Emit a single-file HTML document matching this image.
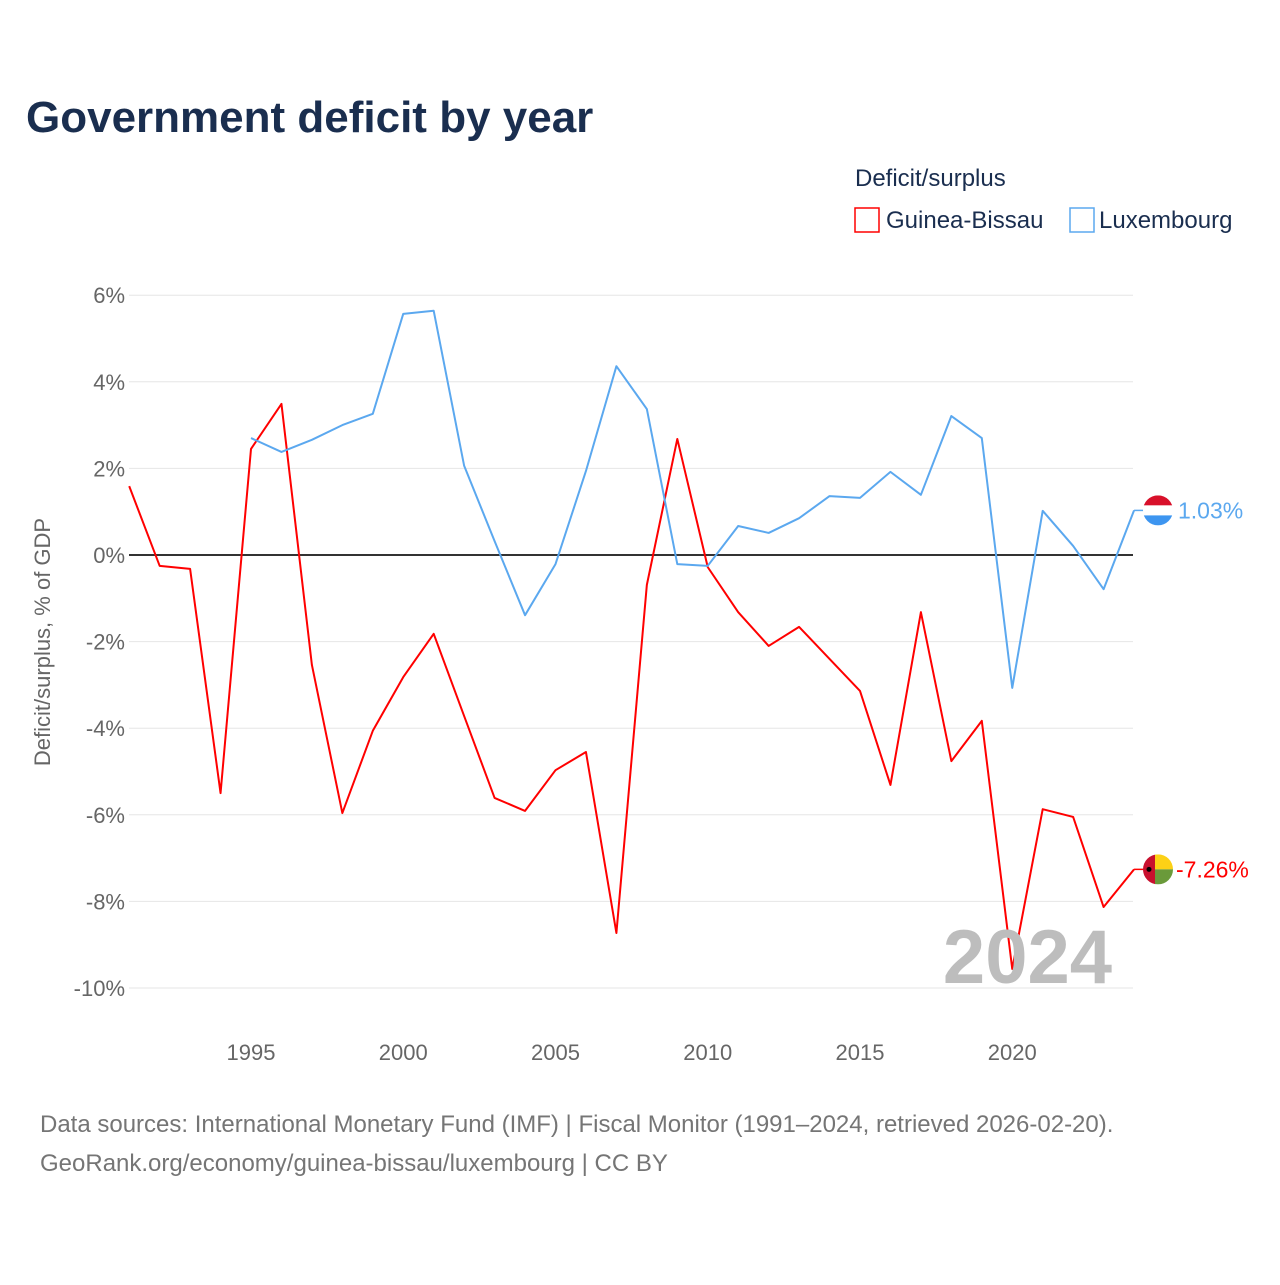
<!DOCTYPE html>
<html><head><meta charset="utf-8">
<style>
body{margin:0;background:#fff;font-family:"Liberation Sans",sans-serif;}
svg text{font-family:"Liberation Sans",sans-serif;}
</style></head>
<body>
<svg id="chart" width="1280" height="1280" viewBox="0 0 1280 1280">
<text x="26" y="132" font-size="44" font-weight="bold" fill="#1a2e4f">Government deficit by year</text>
<text x="855" y="186" font-size="24" fill="#1a2e4f">Deficit/surplus</text>
<g>
<rect x="855" y="208" width="24" height="24" fill="none" stroke="#ff0000" stroke-width="1.5"/>
<text x="886" y="228" font-size="24" fill="#1a2e4f">Guinea-Bissau</text></g>
<g>
<rect x="1070" y="208" width="24" height="24" fill="none" stroke="#5ba8ef" stroke-width="1.5"/>
<text x="1099" y="228" font-size="24" fill="#1a2e4f">Luxembourg</text></g>
<g id="grid"></g>
<g id="marks"></g>
<text x="1112" y="983" font-size="76" font-weight="bold" fill="#bdbdbd" text-anchor="end">2024</text>
<text transform="translate(50,642) rotate(-90)" font-size="22" fill="#666" text-anchor="middle">Deficit/surplus, % of GDP</text>
<text x="40" y="1132" font-size="24" fill="#757575">Data sources: International Monetary Fund (IMF) | Fiscal Monitor (1991–2024, retrieved 2026-02-20).</text>
<text x="40" y="1171" font-size="24" fill="#757575">GeoRank.org/economy/guinea-bissau/luxembourg | CC BY</text>
</svg>
<script>
const gbYears=[1991,1992,1993,1994,1995,1996,1997,1998,1999,2000,2001,2002,2003,2004,2005,2006,2007,2008,2009,2010,2011,2012,2013,2014,2015,2016,2017,2018,2019,2020,2021,2022,2023,2024];
const gbValues=[1.59,-0.25,-0.32,-5.5,2.45,3.49,-2.54,-5.96,-4.06,-2.82,-1.82,-3.72,-5.61,-5.91,-4.97,-4.55,-8.73,-0.69,2.68,-0.28,-1.32,-2.10,-1.66,-2.40,-3.14,-5.31,-1.32,-4.76,-3.83,-9.56,-5.87,-6.05,-8.13,-7.26];
const luYears=[1995,1996,1997,1998,1999,2000,2001,2002,2003,2004,2005,2006,2007,2008,2009,2010,2011,2012,2013,2014,2015,2016,2017,2018,2019,2020,2021,2022,2023,2024];
const luValues=[2.70,2.38,2.66,3.00,3.26,5.57,5.64,2.06,0.32,-1.39,-0.21,1.94,4.36,3.37,-0.21,-0.25,0.67,0.51,0.85,1.36,1.32,1.92,1.39,3.21,2.70,-3.07,1.02,0.21,-0.79,1.03];
const yTicks=[6,4,2,0,-2,-4,-6,-8,-10];
const xTicks=[1995,2000,2005,2010,2015,2020];
const NS="http://www.w3.org/2000/svg";
const xs=y=>129.2+(y-1991)*30.45;
const ys=v=>555-v*43.3;
const grid=document.getElementById('grid'),marks=document.getElementById('marks');
function mk(tag,attrs,parent){const e=document.createElementNS(NS,tag);for(const k in attrs)e.setAttribute(k,attrs[k]);parent.appendChild(e);return e;}
yTicks.forEach(t=>{
  const l=mk('line',{x1:129,x2:1133,y1:ys(t),y2:ys(t),stroke:t===0?'#333':'#e6e6e6','stroke-width':t===0?2:1},grid);
  
  
  const tx=mk('text',{x:125,y:ys(t)+8,'font-size':22,fill:'#666','text-anchor':'end'},grid);
  tx.textContent=t+'%';
  
  
});
xTicks.forEach(t=>{
  const tx=mk('text',{x:xs(t),y:1060,'font-size':22,fill:'#666','text-anchor':'middle'},grid);
  tx.textContent=t;
  
  
});
function line(years,vals,color,name){
  const p=mk('polyline',{points:years.map((y,i)=>xs(y)+','+ys(vals[i])).join(' '),fill:'none',stroke:color,'stroke-width':2,'stroke-linejoin':'round'},marks);
  
  
}
line(gbYears,gbValues,'#ff0000','guinea-bissau-line');
line(luYears,luValues,'#5ba8ef','luxembourg-line');
const luLast=luValues[luValues.length-1],gbLast=gbValues[gbValues.length-1];
const lx=xs(2024);
mk('line',{x1:lx,x2:lx+10,y1:ys(luLast),y2:ys(luLast),stroke:'#5ba8ef','stroke-width':1.5},marks);
mk('line',{x1:lx,x2:lx+10,y1:ys(gbLast),y2:ys(gbLast),stroke:'#ff0000','stroke-width':1.5},marks);
const fl=mk('g',{},marks);


const cy1=ys(luLast),cx=1158;
mk('clipPath',{id:'c1'},fl);mk('circle',{cx:cx,cy:cy1,r:15},fl.lastChild);
const g1=mk('g',{'clip-path':'url(#c1)'},fl);
mk('rect',{x:cx-15,y:cy1-15,width:30,height:10,fill:'#d8102a'},g1);
mk('rect',{x:cx-15,y:cy1-5,width:30,height:10,fill:'#fff'},g1);
mk('rect',{x:cx-15,y:cy1+5,width:30,height:10,fill:'#3d95f0'},g1);
const fg=mk('g',{},marks);


const cy2=ys(gbLast);
mk('clipPath',{id:'c2'},fg);mk('circle',{cx:cx,cy:cy2,r:15},fg.lastChild);
const g2=mk('g',{'clip-path':'url(#c2)'},fg);
mk('rect',{x:cx-15,y:cy2-15,width:12,height:30,fill:'#c8102e'},g2);
mk('rect',{x:cx-3,y:cy2-15,width:18,height:15,fill:'#fcd116'},g2);
mk('rect',{x:cx-3,y:cy2,width:18,height:15,fill:'#6a9a3a'},g2);
mk('circle',{cx:cx-9,cy:cy2,r:2.5,fill:'#000'},g2);
const t1=mk('text',{x:1178,y:ys(luLast)+8,'font-size':23,fill:'#5ba8ef'},marks);
t1.textContent=luLast.toFixed(2)+'%';


const t2=mk('text',{x:1176,y:ys(gbLast)+8,'font-size':23,fill:'#ff0000'},marks);
t2.textContent=gbLast.toFixed(2)+'%';


</script>
</body></html>
